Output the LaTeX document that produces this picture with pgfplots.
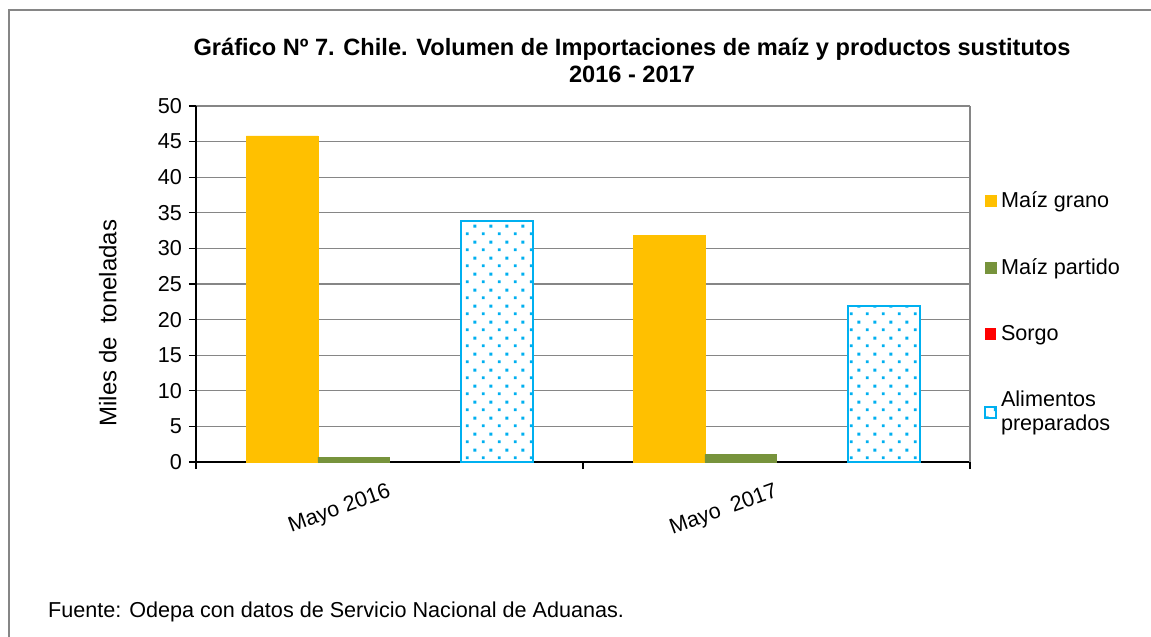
\documentclass[border=0pt]{standalone}
\usepackage{pgfplots}
\pgfplotsset{compat=1.18}
\usetikzlibrary{patterns}
\usepackage{fontspec}
\setmainfont{Liberation Sans}
\definecolor{grano}{HTML}{FFC000}
\definecolor{partido}{HTML}{77933C}
\definecolor{sorgo}{HTML}{FF0000}
\definecolor{alim}{HTML}{00B0F0}
\definecolor{gridc}{HTML}{868686}

% puntos dispersos como en el original
\pgfdeclarepatternformonly{sparsedots}{\pgfqpoint{0pt}{0pt}}{\pgfqpoint{8pt}{8pt}}{\pgfqpoint{8pt}{8pt}}{%
  \pgfpathrectangle{\pgfqpoint{1pt}{1pt}}{\pgfqpoint{1.5pt}{1.5pt}}%
  \pgfpathrectangle{\pgfqpoint{5pt}{5pt}}{\pgfqpoint{1.5pt}{1.5pt}}%
  \pgfusepath{fill}}

\begin{document}
\begin{tikzpicture}
\useasboundingbox (-98pt,-87.5pt) rectangle (477.5pt,231pt);
% marco exterior (solo bordes izquierdo y superior visibles)
\draw[gridc, line width=0.8pt] (-93.5pt,-87.5pt) -- (-93.5pt,226pt) -- (477.5pt,226pt);
\begin{axis}[
  scale only axis,
  width=387pt, height=178pt,
  ybar=0pt, bar width=0.185,
  xmin=-0.5, xmax=1.5, ymin=0, ymax=50,
  xtick={0,1}, xticklabels={Mayo 2016,Mayo\ \ 2017},
  minor xtick={-0.5,0.5,1.5},
  major x tick style={draw=none},
  minor x tick style={black, line width=0.6pt},
  ytick distance=5,
  tick align=outside,
  major tick length=3.5pt, minor tick length=3.5pt,
  ytick style={black, line width=0.6pt},
  axis x line*=bottom, axis y line*=left,
  axis line style={black, line width=0.8pt},
  ymajorgrids, grid style={gridc, line width=0.6pt},
  /pgf/number format/assume math mode=true,
  tick label style={font=\fontsize{10.8}{12}\selectfont},
  xticklabel style={rotate=20, anchor=north east, yshift=-2pt},
  every axis y label/.style={at={(axis description cs:-0.114,0.39)}, rotate=90, anchor=center, font=\fontsize{12}{13}\selectfont},
  ylabel={Miles de\ \ toneladas},
  legend style={at={(1.015,0.42)}, anchor=west, draw=none, fill=none,
    font=\fontsize{10.8}{12}\selectfont, row sep=20pt, inner sep=1pt,
    cells={align=left}},
  legend cell align=left,
  legend image code/.code={\draw[#1] (0pt,-2.8pt) rectangle (5.6pt,2.8pt);},
  clip=false,
]
\addplot[fill=grano, draw=grano] coordinates {(0,45.8) (1,31.8)};
\addplot[fill=partido, draw=partido] coordinates {(0,0.7) (1,1.0)};
\addplot[fill=none, draw=none,
  legend image code/.code={\fill[sorgo] (0pt,-2.8pt) rectangle (5.6pt,2.8pt);}] coordinates {(0,0) (1,0)};
\addplot[fill=white, draw=alim, line width=0.9pt,
  postaction={pattern=sparsedots, pattern color=alim}] coordinates {(0,33.9) (1,21.9)};
\legend{Maíz grano,Maíz partido,Sorgo,Alimentos\\preparados}
\draw[gridc, line width=0.8pt] (rel axis cs:1,0) -- (rel axis cs:1,1);
\end{axis}
\node[align=center, font=\bfseries\fontsize{11.8}{13.5}\selectfont] at (218pt,201pt)
  {Gráfico Nº 7. Chile. Volumen de Importaciones de maíz y productos sustitutos\\2016 - 2017};
\node[anchor=west, font=\fontsize{10.8}{12}\selectfont] at (-77.5pt,-75pt)
  {Fuente: Odepa con datos de Servicio Nacional de Aduanas.};
\end{tikzpicture}
\end{document}
